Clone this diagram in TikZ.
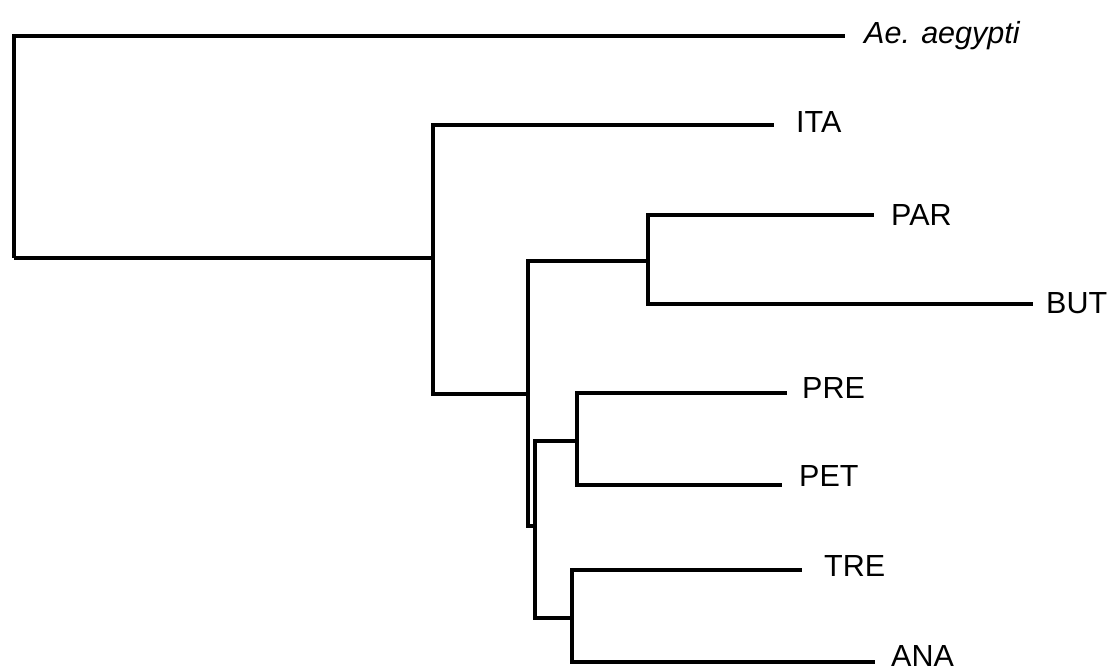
\documentclass[tikz,border=0pt]{standalone}
\usepackage{fontspec}
\setmainfont{Liberation Sans}
\begin{document}
\begin{tikzpicture}[x=1pt,y=-1pt,
  branch/.style={line width=3.6pt,black},
  taxon/.style={anchor=base west,inner sep=0pt,font=\fontsize{30.5}{32}\selectfont}]
\useasboundingbox (0,0) rectangle (1114,671);
% internal nodes
\coordinate (r)  at (14,258);
\coordinate (n1) at (433,258);
\coordinate (n2) at (528,394);
\coordinate (n3) at (648,261);
\coordinate (n4) at (535,526);
\coordinate (n5) at (577,441);
\coordinate (n6) at (572,618);
% leaf ends
\coordinate (ae)  at (845,36);
\coordinate (ita) at (774,125);
\coordinate (par) at (874,215);
\coordinate (but) at (1033,304);
\coordinate (pre) at (787,393);
\coordinate (pet) at (782,485);
\coordinate (tre) at (802,570);
\coordinate (ana) at (875,662);
% labels
\node[taxon] (aeL)  at (864,44)  {\itshape Ae. aegypti};
\node[taxon] (itaL) at (796,133) {ITA};
\node[taxon] (parL) at (891,226) {PAR};
\node[taxon] (butL) at (1046,313) {BUT};
\node[taxon] (preL) at (802,398) {PRE};
\node[taxon] (petL) at (799,486) {PET};
\node[taxon] (treL) at (824,576) {TRE};
\node[taxon] (anaL) at (891,666) {ANA};
% branches
\draw[branch] (r) |- (ae);
\draw[branch] (r) -- (n1);
\draw[branch] (n1) |- (ita);
\draw[branch] (n1) |- (n2);
\draw[branch] (n2) |- (n3);
\draw[branch] (n2) |- (n4);
\draw[branch] (n3) |- (par);
\draw[branch] (n3) |- (but);
\draw[branch] (n4) |- (n5);
\draw[branch] (n4) |- (n6);
\draw[branch] (n5) |- (pre);
\draw[branch] (n5) |- (pet);
\draw[branch] (n6) |- (tre);
\draw[branch] (n6) |- (ana);
\end{tikzpicture}
\end{document}
